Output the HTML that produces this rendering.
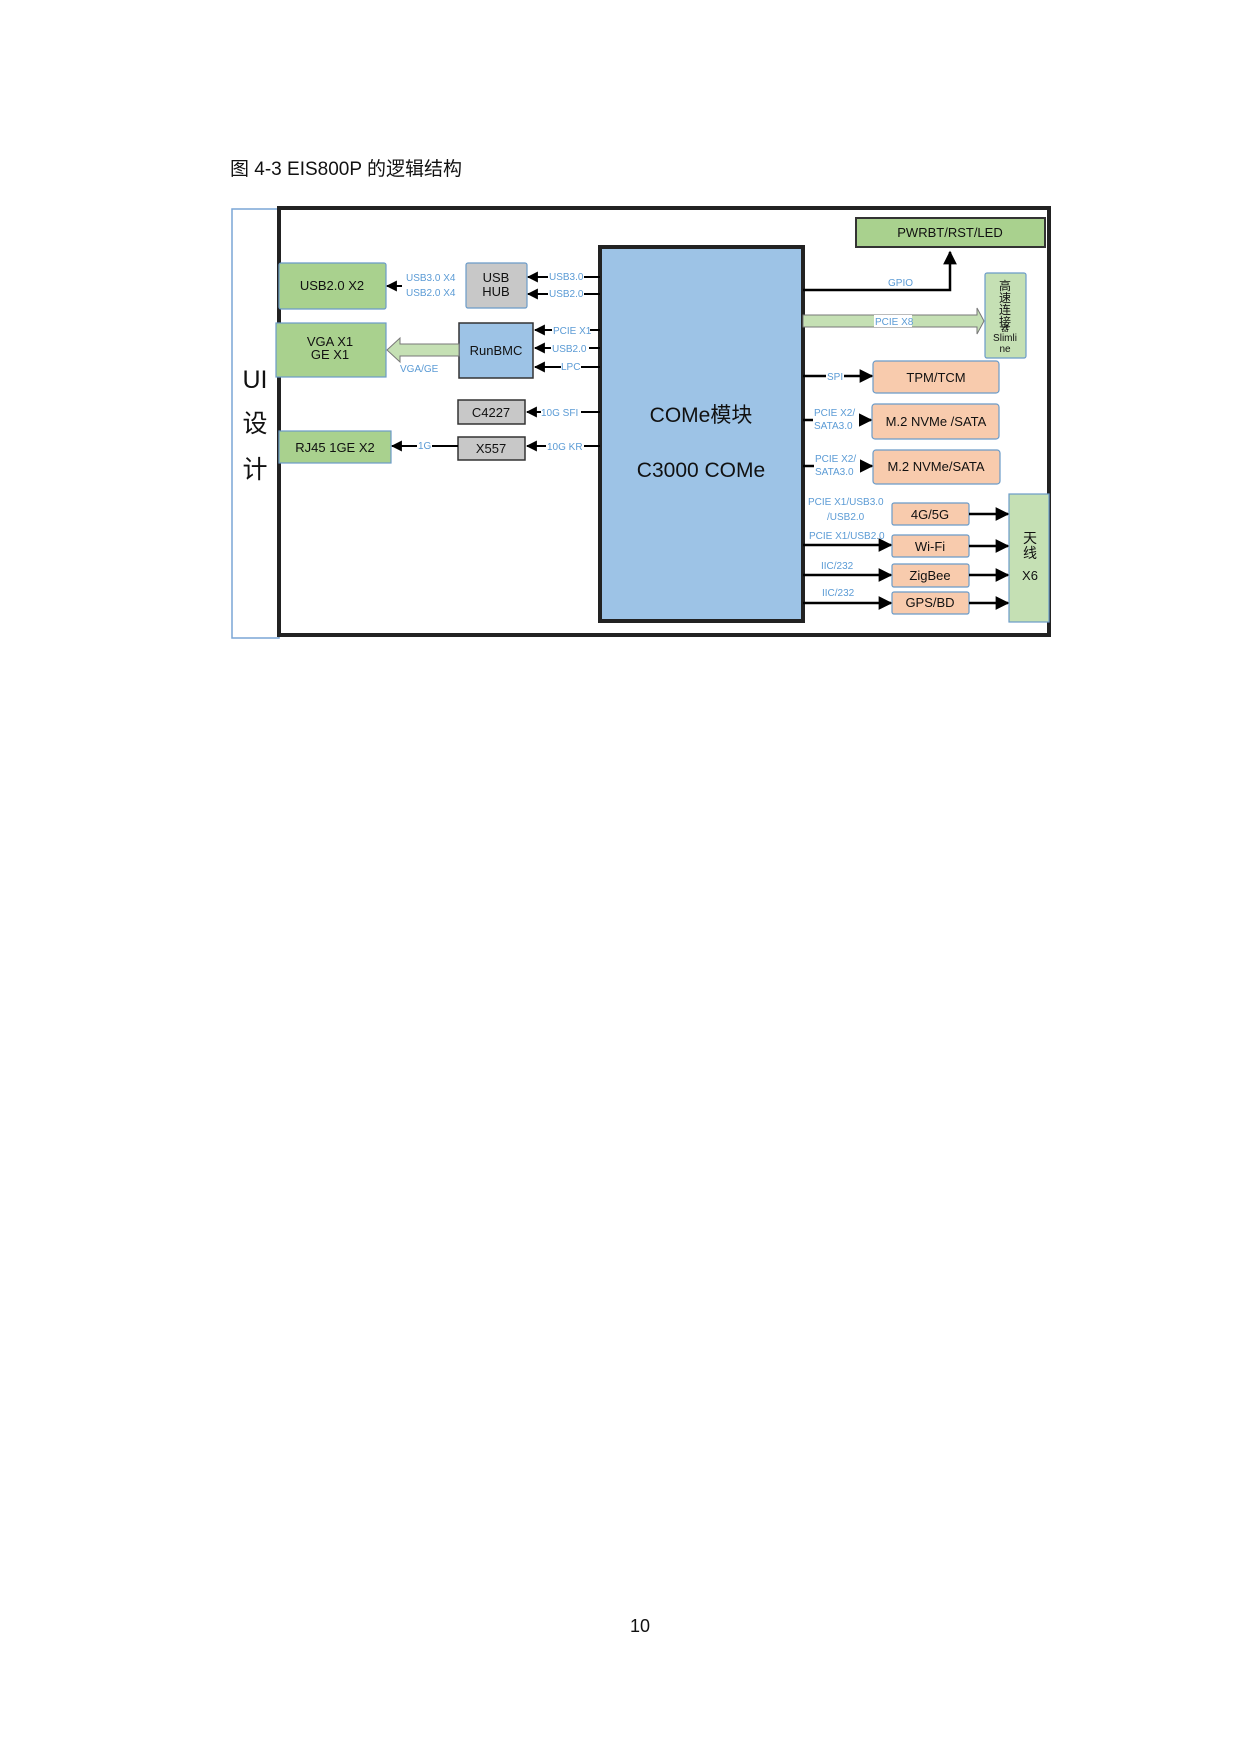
<!DOCTYPE html>
<html><head><meta charset="utf-8"><style>
html,body{margin:0;padding:0;background:#fff;}
svg{display:block;}
text{font-family:"Liberation Sans","Noto Sans CJK SC",sans-serif;}
.b{fill:#5b9bd5;font-size:10px;}
.k{fill:#111;font-size:13px;}
</style></head><body>
<svg width="1240" height="1754" viewBox="0 0 1240 1754" xmlns="http://www.w3.org/2000/svg">
<defs>
<marker id="a" viewBox="0 0 10 10" refX="9" refY="5" markerWidth="5.5" markerHeight="5.5" orient="auto"><path d="M0,0L10,5L0,10z" fill="#000"/></marker>
</defs>
<text x="230" y="175" style="font-size:19px" fill="#111">图 4-3 EIS800P 的逻辑结构</text>
<rect x="232" y="209" width="47" height="429" fill="#fff" stroke="#7aa6d6" stroke-width="1.5"/>
<text x="255" y="388" text-anchor="middle" style="font-size:25px" fill="#111">UI</text>
<text x="255" y="432" text-anchor="middle" style="font-size:25px" fill="#111">设</text>
<text x="255" y="478" text-anchor="middle" style="font-size:25px" fill="#111">计</text>
<rect x="279" y="208" width="770" height="427" fill="#fff" stroke="#222" stroke-width="4"/>
<rect x="600" y="247" width="203" height="374" fill="#9dc3e6" stroke="#222" stroke-width="4"/>
<text x="701" y="422" text-anchor="middle" style="font-size:21px" fill="#111">COMe模块</text>
<text x="701" y="477" text-anchor="middle" style="font-size:21px" fill="#111">C3000 COMe</text>
<rect x="279" y="263" width="107" height="46" fill="#a9d18e" stroke="#6b9bc8" stroke-width="1.2" rx="2"/>
<text x="332" y="290" text-anchor="middle" class="k">USB2.0 X2</text>
<rect x="276" y="323" width="110" height="54" fill="#a9d18e" stroke="#6b9bc8" stroke-width="1.2"/>
<text x="330" y="346" text-anchor="middle" class="k">VGA X1</text>
<text x="330" y="359" text-anchor="middle" class="k">GE X1</text>
<rect x="279" y="431" width="112" height="32" fill="#a9d18e" stroke="#6b9bc8" stroke-width="1.2"/>
<text x="335" y="452" text-anchor="middle" class="k">RJ45 1GE X2</text>
<rect x="466" y="263" width="61" height="45" fill="#c8c8c8" stroke="#6b9bc8" stroke-width="1.2" rx="2"/>
<text x="496" y="282" text-anchor="middle" class="k">USB</text>
<text x="496" y="296" text-anchor="middle" class="k">HUB</text>
<rect x="459" y="323" width="74" height="55" fill="#9dc3e6" stroke="#333" stroke-width="1.5"/>
<text x="496" y="355" text-anchor="middle" class="k">RunBMC</text>
<rect x="458" y="400" width="67" height="24" fill="#c8c8c8" stroke="#333" stroke-width="1.5"/>
<text x="491" y="417" text-anchor="middle" class="k">C4227</text>
<rect x="458" y="437" width="67" height="23" fill="#c8c8c8" stroke="#333" stroke-width="1.5"/>
<text x="491" y="453" text-anchor="middle" class="k">X557</text>
<g stroke="#000" stroke-width="2" marker-end="url(#a)">
<line x1="600" y1="277" x2="528" y2="277"/>
<line x1="600" y1="294" x2="528" y2="294"/>
<line x1="600" y1="330" x2="535" y2="330"/>
<line x1="600" y1="348" x2="535" y2="348"/>
<line x1="600" y1="367" x2="535" y2="367"/>
<line x1="600" y1="412" x2="527" y2="412"/>
<line x1="600" y1="446" x2="527" y2="446"/>
<line x1="458" y1="446" x2="392" y2="446"/>
<line x1="402" y1="286" x2="387" y2="286"/>
</g>
<rect x="548" y="270" width="36" height="12" fill="#fff"/><text x="549" y="280" class="b">USB3.0</text>
<rect x="548" y="288" width="36" height="12" fill="#fff"/><text x="549" y="297" class="b">USB2.0</text>
<rect x="552" y="324" width="38" height="12" fill="#fff"/><text x="553" y="334" class="b">PCIE X1</text>
<rect x="551" y="342" width="38" height="12" fill="#fff"/><text x="552" y="352" class="b">USB2.0</text>
<rect x="561" y="361" width="20" height="12" fill="#fff"/><text x="561" y="370" class="b">LPC</text>
<rect x="541" y="406" width="40" height="12" fill="#fff"/><text x="541" y="416" class="b">10G SFI</text>
<rect x="546" y="440" width="38" height="12" fill="#fff"/><text x="547" y="450" class="b">10G KR</text>
<rect x="417" y="440" width="15" height="12" fill="#fff"/><text x="418" y="449" class="b">1G</text>
<text x="406" y="281" class="b">USB3.0 X4</text>
<text x="406" y="296" class="b">USB2.0 X4</text>
<text x="400" y="372" class="b">VGA/GE</text>
<path d="M459,344 L400,344 L400,338 L387,350 L400,362 L400,356 L459,356 Z" fill="#c5e0b4" stroke="#777" stroke-width="1"/>
<rect x="856" y="218" width="189" height="29" fill="#a9d18e" stroke="#333" stroke-width="2"/>
<text x="950" y="237" text-anchor="middle" class="k">PWRBT/RST/LED</text>
<path d="M803,290 L950,290 L950,252" fill="none" stroke="#000" stroke-width="2.5" marker-end="url(#a)"/>
<text x="888" y="286" class="b">GPIO</text>
<path d="M803,315 L977,315 L977,308 L984,321 L977,334 L977,327 L803,327 Z" fill="#c5e0b4" stroke="#777" stroke-width="1"/>
<rect x="874" y="315" width="38" height="12" fill="#fff"/><text x="875" y="325" class="b">PCIE X8</text>
<rect x="985" y="273" width="41" height="85" fill="#c5e0b4" stroke="#6b9bc8" stroke-width="1.2" rx="2"/>
<text x="1005" y="290" text-anchor="middle" style="font-size:12px" fill="#111">高</text>
<text x="1005" y="302" text-anchor="middle" style="font-size:12px" fill="#111">速</text>
<text x="1005" y="314" text-anchor="middle" style="font-size:12px" fill="#111">连</text>
<text x="1005" y="326" text-anchor="middle" style="font-size:12px" fill="#111">接</text>
<text x="1005" y="331" text-anchor="middle" style="font-size:8px" fill="#111">器</text>
<text x="1005" y="341" text-anchor="middle" style="font-size:10px" fill="#111">Slimli</text>
<text x="1005" y="352" text-anchor="middle" style="font-size:10px" fill="#111">ne</text>
<g fill="#f8cbad" stroke="#6b9bc8" stroke-width="1.2">
<rect x="873" y="361" width="126" height="32" rx="3"/>
<rect x="872" y="404" width="127" height="35" rx="3"/>
<rect x="873" y="450" width="127" height="34" rx="3"/>
<rect x="892" y="503" width="77" height="22" rx="2"/>
<rect x="892" y="535" width="77" height="22" rx="2"/>
<rect x="892" y="564" width="77" height="23" rx="2"/>
<rect x="892" y="592" width="77" height="22" rx="2"/>
</g>
<text x="936" y="382" text-anchor="middle" class="k">TPM/TCM</text>
<text x="936" y="426" text-anchor="middle" class="k">M.2 NVMe /SATA</text>
<text x="936" y="471" text-anchor="middle" class="k">M.2 NVMe/SATA</text>
<text x="930" y="519" text-anchor="middle" class="k">4G/5G</text>
<text x="930" y="551" text-anchor="middle" class="k">Wi-Fi</text>
<text x="930" y="580" text-anchor="middle" class="k">ZigBee</text>
<text x="930" y="607" text-anchor="middle" class="k">GPS/BD</text>
<rect x="1009" y="494" width="40" height="128" fill="#c5e0b4" stroke="#6b9bc8" stroke-width="1.2"/>
<text x="1030" y="543" text-anchor="middle" style="font-size:14px" fill="#111">天</text>
<text x="1030" y="558" text-anchor="middle" style="font-size:14px" fill="#111">线</text>
<text x="1030" y="580" text-anchor="middle" class="k">X6</text>
<g stroke="#000" stroke-width="2.5" marker-end="url(#a)">
<line x1="803" y1="376" x2="872" y2="376"/>
<line x1="803" y1="420" x2="871" y2="420"/>
<line x1="803" y1="466" x2="872" y2="466"/>
<line x1="803" y1="545" x2="891" y2="545"/>
<line x1="803" y1="575" x2="891" y2="575"/>
<line x1="803" y1="603" x2="891" y2="603"/>
<line x1="969" y1="514" x2="1008" y2="514"/>
<line x1="969" y1="546" x2="1008" y2="546"/>
<line x1="969" y1="575" x2="1008" y2="575"/>
<line x1="969" y1="603" x2="1008" y2="603"/>
</g>
<rect x="826" y="370" width="18" height="12" fill="#fff"/><text x="827" y="380" class="b">SPI</text>
<rect x="813" y="406" width="46" height="27" fill="#fff"/>
<text x="814" y="416" class="b">PCIE X2/</text><text x="814" y="429" class="b">SATA3.0</text>
<rect x="814" y="452" width="46" height="27" fill="#fff"/>
<text x="815" y="462" class="b">PCIE X2/</text><text x="815" y="475" class="b">SATA3.0</text>
<text x="808" y="505" class="b">PCIE X1/USB3.0</text>
<text x="827" y="520" class="b">/USB2.0</text>
<text x="809" y="539" class="b">PCIE X1/USB2.0</text>
<text x="821" y="569" class="b">IIC/232</text>
<text x="822" y="596" class="b">IIC/232</text>
<text x="640" y="1632" text-anchor="middle" style="font-size:18px" fill="#111">10</text>
</svg>
</body></html>
